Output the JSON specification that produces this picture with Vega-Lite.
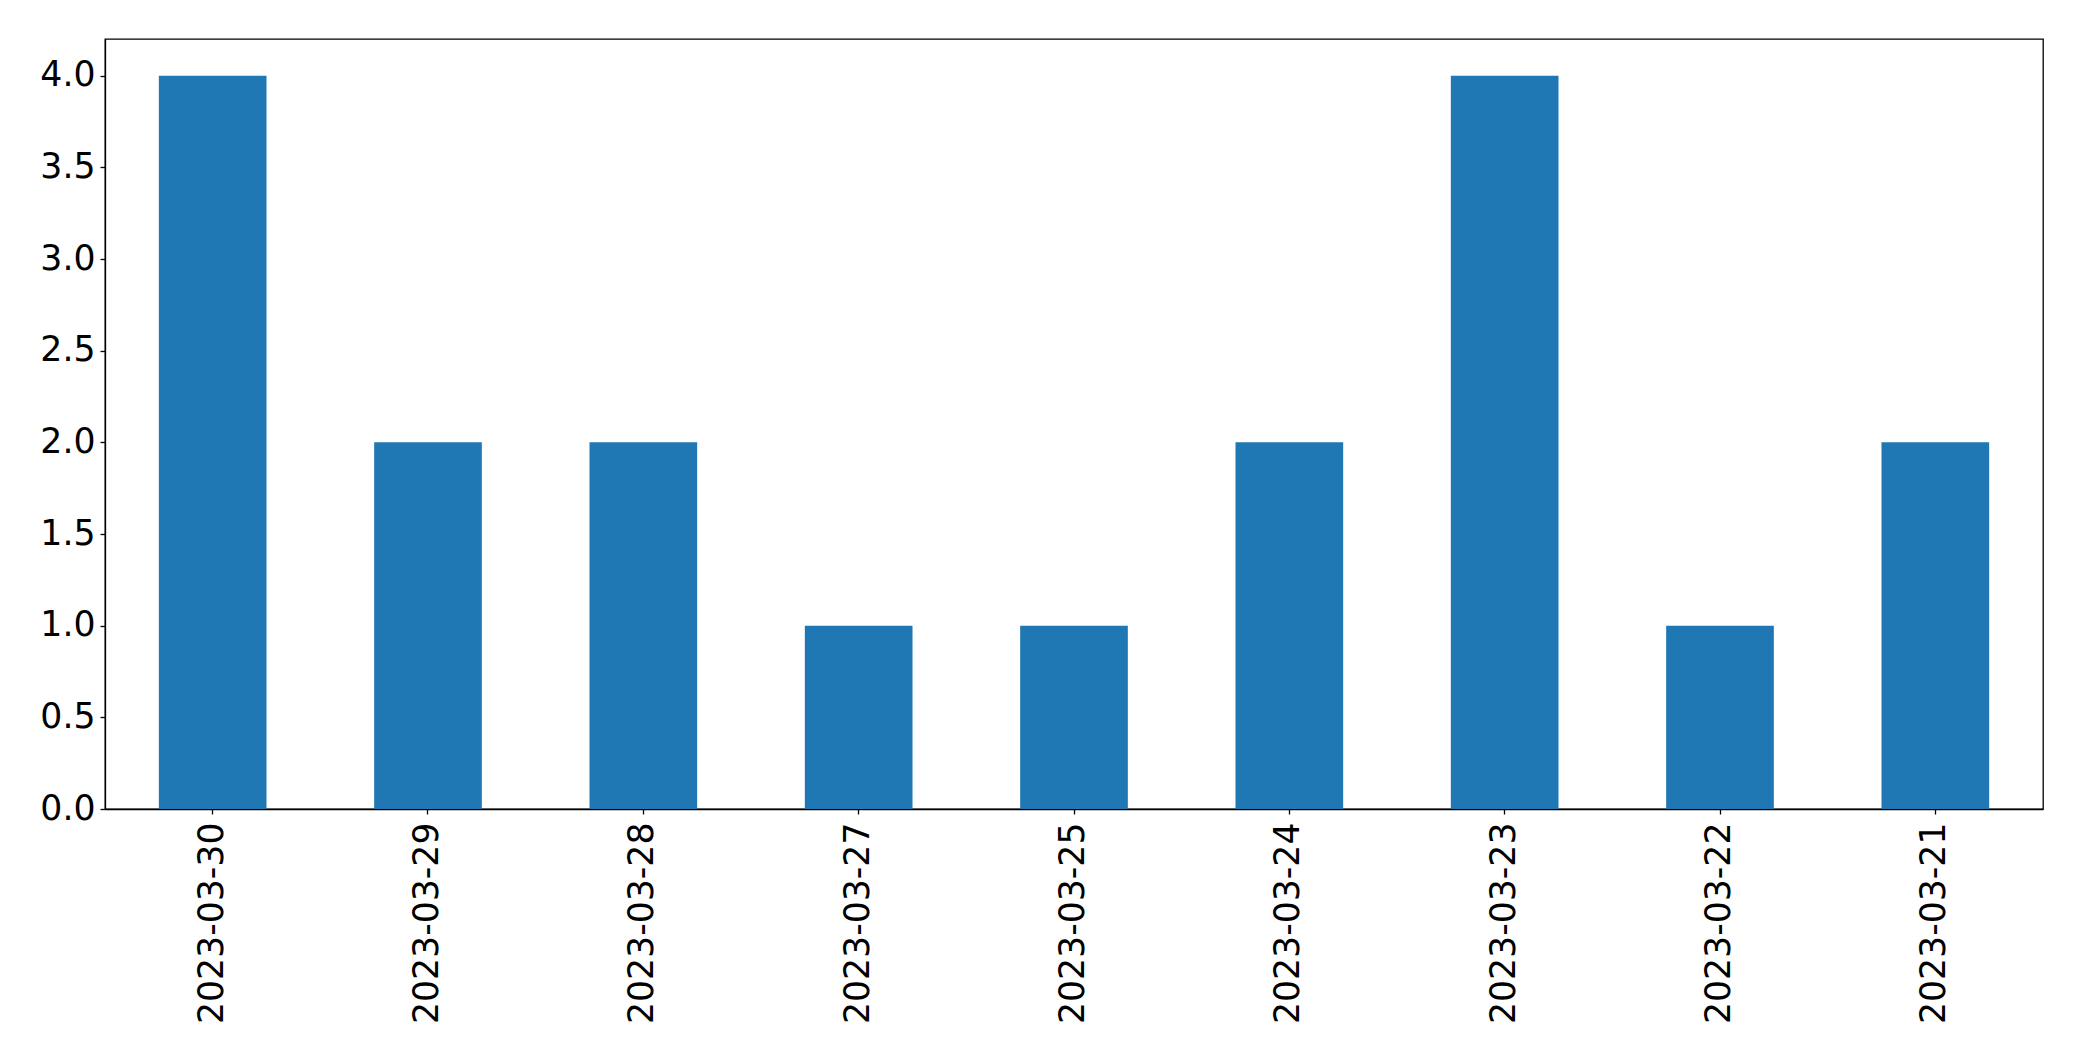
{
  "$schema": "https://vega.github.io/schema/vega-lite/v6.json",
  "autosize": {"type": "none"},
  "width": 1938,
  "height": 770,
  "padding": {"left": 105, "top": 39, "right": 39, "bottom": 252},
  "background": "white",
  "config": {
    "view": {"stroke": "black", "strokeWidth": 1.3},
    "axis": {
      "grid": false,
      "labelFont": "DejaVu Sans",
      "labelFontSize": 34.7,
      "labelColor": "black",
      "labelLimit": 0,
      "domainColor": "black",
      "domainWidth": 1.3,
      "tickColor": "black",
      "tickWidth": 1.3,
      "tickSize": 5,
      "labelPadding": 5,
      "title": null
    }
  },
  "data": {
    "values": [
      {"date": "2023-03-30", "count": 4},
      {"date": "2023-03-29", "count": 2},
      {"date": "2023-03-28", "count": 2},
      {"date": "2023-03-27", "count": 1},
      {"date": "2023-03-25", "count": 1},
      {"date": "2023-03-24", "count": 2},
      {"date": "2023-03-23", "count": 4},
      {"date": "2023-03-22", "count": 1},
      {"date": "2023-03-21", "count": 2}
    ]
  },
  "mark": {"type": "bar", "color": "#1f77b4"},
  "encoding": {
    "x": {
      "field": "date",
      "type": "nominal",
      "sort": null,
      "scale": {"paddingInner": 0.5, "paddingOuter": 0.25},
      "axis": {"labelAngle": -90, "labelPadding": 8, "title": null}
    },
    "y": {
      "field": "count",
      "type": "quantitative",
      "scale": {"domain": [0, 4.2], "nice": false},
      "axis": {"values": [0, 0.5, 1, 1.5, 2, 2.5, 3, 3.5, 4], "format": ".1f", "title": null}
    }
  }
}
